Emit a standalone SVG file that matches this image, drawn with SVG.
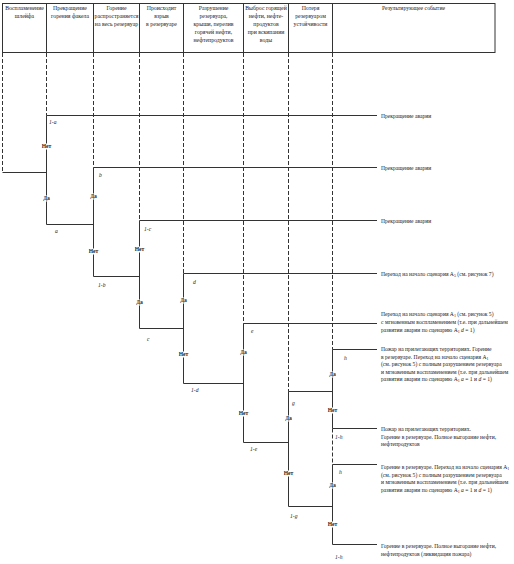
<svg xmlns="http://www.w3.org/2000/svg" width="514" height="564" viewBox="0 0 514 564">
<style>
.bg{fill:#fff}
.hdr{fill:none;stroke:#333;stroke-width:1}
.div{stroke:#333;stroke-width:1}
.dash{stroke:#333;stroke-width:1;stroke-dasharray:4,2;fill:none}
.ln{stroke:#333;stroke-width:1;fill:none}
.ht{font-family:"Liberation Serif","Times New Roman",serif;font-size:5.8px;fill:#222;text-anchor:middle}
.rt{font-family:"Liberation Serif","Times New Roman",serif;font-size:5.6px;fill:#222}
.yn{font-family:"Liberation Serif","Times New Roman",serif;font-size:5.6px;font-weight:bold;fill:#222;text-anchor:middle}
.gap{fill:#fff}
.pl{font-family:"Liberation Serif","Times New Roman",serif;font-size:5.6px;font-style:italic;fill:#222}
.sub{font-size:4px}
</style>
<defs>
  <rect id="gapN" class="gap" x="-5.5" y="-4.5" width="11" height="6"/>
  <rect id="gapD" class="gap" x="-4" y="-4.5" width="8" height="6"/>
</defs>
<rect class="bg" x="0" y="0" width="514" height="564"/>

<g id="header">
  <rect class="hdr" x="2.5" y="3.5" width="492.5" height="49"/>
  <line class="div" x1="46.5" y1="3.5" x2="46.5" y2="52.5"/>
  <line class="div" x1="93.5" y1="3.5" x2="93.5" y2="52.5"/>
  <line class="div" x1="139.5" y1="3.5" x2="139.5" y2="52.5"/>
  <line class="div" x1="183.5" y1="3.5" x2="183.5" y2="52.5"/>
  <line class="div" x1="243.5" y1="3.5" x2="243.5" y2="52.5"/>
  <line class="div" x1="288.5" y1="3.5" x2="288.5" y2="52.5"/>
  <line class="div" x1="332.5" y1="3.5" x2="332.5" y2="52.5"/>
  <text class="ht" x="24.5" y="9.5">Воспламенение<tspan x="24.5" dy="8.2">шлейфа</tspan></text>
  <text class="ht" x="70" y="9.5">Прекращение<tspan x="70" dy="8.2">горения факела</tspan></text>
  <text class="ht" x="116.5" y="9.5">Горение<tspan x="116.5" dy="8.2">распространяется</tspan><tspan x="116.5" dy="8.2">на весь резервуар</tspan></text>
  <text class="ht" x="161.5" y="9.5">Происходит<tspan x="161.5" dy="8.2">взрыв</tspan><tspan x="161.5" dy="8.2">в резервуаре</tspan></text>
  <text class="ht" x="213.5" y="9.5">Разрушение<tspan x="213.5" dy="8.2">резервуара,</tspan><tspan x="213.5" dy="8.2">крыши, перелив</tspan><tspan x="213.5" dy="8.2">горячей нефти,</tspan><tspan x="213.5" dy="8.2">нефтепродуктов</tspan></text>
  <text class="ht" x="266" y="9.5">Выброс горящей<tspan x="266" dy="8.2">нефти, нефте-</tspan><tspan x="266" dy="8.2">продуктов</tspan><tspan x="266" dy="8.2">при вскипании</tspan><tspan x="266" dy="8.2">воды</tspan></text>
  <text class="ht" x="310.5" y="9.5">Потеря<tspan x="310.5" dy="8.2">резервуаром</tspan><tspan x="310.5" dy="8.2">устойчивости</tspan></text>
  <text class="ht" x="413.5" y="10">Результирующее событие</text>
</g>

<g id="guides">
  <line class="dash" x1="2.5" y1="53" x2="2.5" y2="172.5"/>
  <line class="dash" x1="46.5" y1="53" x2="46.5" y2="115.5"/>
  <line class="dash" x1="93.5" y1="53" x2="93.5" y2="167.5"/>
  <line class="dash" x1="139.5" y1="53" x2="139.5" y2="220.5"/>
  <line class="dash" x1="183.5" y1="53" x2="183.5" y2="273.5"/>
  <line class="dash" x1="243.5" y1="53" x2="243.5" y2="323.5"/>
  <line class="dash" x1="288.5" y1="53" x2="288.5" y2="391.5"/>
  <line class="dash" x1="332.5" y1="53" x2="332.5" y2="349.5"/>
  <line class="dash" x1="332.5" y1="428.5" x2="332.5" y2="464.5"/>
</g>

<g id="connectors">
  <line class="ln" x1="2.5" y1="172.5" x2="46.5" y2="172.5"/>
  <line class="ln" x1="46.5" y1="224.5" x2="93.5" y2="224.5"/>
  <line class="ln" x1="93.5" y1="276.5" x2="139.5" y2="276.5"/>
  <line class="ln" x1="139.5" y1="328.5" x2="183.5" y2="328.5"/>
  <line class="ln" x1="183.5" y1="383.5" x2="243.5" y2="383.5"/>
  <line class="ln" x1="243.5" y1="442.5" x2="288.5" y2="442.5"/>
  <line class="ln" x1="288.5" y1="391.5" x2="332.5" y2="391.5"/>
  <line class="ln" x1="288.5" y1="506.5" x2="332.5" y2="506.5"/>
  <line class="ln" x1="46.5" y1="115.5" x2="377" y2="115.5"/>
  <line class="ln" x1="93.5" y1="167.5" x2="377" y2="167.5"/>
  <line class="ln" x1="139.5" y1="220.5" x2="377" y2="220.5"/>
  <line class="ln" x1="183.5" y1="273.5" x2="377" y2="273.5"/>
  <line class="ln" x1="243.5" y1="323.5" x2="377" y2="323.5"/>
  <line class="ln" x1="332.5" y1="349.5" x2="377" y2="349.5"/>
  <line class="ln" x1="332.5" y1="428.5" x2="377" y2="428.5"/>
  <line class="ln" x1="332.5" y1="464.5" x2="377" y2="464.5"/>
  <line class="ln" x1="332.5" y1="544.5" x2="377" y2="544.5"/>
  <text class="pl" x="49" y="124">1-a</text>
  <text class="pl" x="55" y="233">a</text>
  <text class="pl" x="99" y="177">b</text>
  <text class="pl" x="98" y="287">1-b</text>
  <text class="pl" x="144" y="231">1-c</text>
  <text class="pl" x="147" y="341">c</text>
  <text class="pl" x="193" y="284">d</text>
  <text class="pl" x="191" y="392">1-d</text>
  <text class="pl" x="251" y="333">e</text>
  <text class="pl" x="250" y="451">1-e</text>
  <text class="pl" x="292" y="405">g</text>
  <text class="pl" x="290" y="518">1-g</text>
  <text class="pl" x="344" y="360">h</text>
  <text class="pl" x="335" y="439">1-h</text>
  <text class="pl" x="339" y="474">h</text>
  <text class="pl" x="335" y="559">1-h</text>
</g>

<g id="node-a">
  <line class="ln" x1="46.5" y1="115.5" x2="46.5" y2="224.5"/>
  <use href="#gapN" x="46.5" y="148"/><text class="yn" x="46.5" y="148">Нет</text>
  <use href="#gapD" x="46.5" y="200"/><text class="yn" x="46.5" y="200">Да</text>
</g>
<g id="node-b">
  <line class="ln" x1="93.5" y1="167.5" x2="93.5" y2="276.5"/>
  <use href="#gapD" x="93.5" y="198"/><text class="yn" x="93.5" y="198">Да</text>
  <use href="#gapN" x="93.5" y="253"/><text class="yn" x="93.5" y="253">Нет</text>
</g>
<g id="node-c">
  <line class="ln" x1="139.5" y1="220.5" x2="139.5" y2="328.5"/>
  <use href="#gapN" x="139.5" y="251"/><text class="yn" x="139.5" y="251">Нет</text>
  <use href="#gapD" x="139.5" y="304"/><text class="yn" x="139.5" y="304">Да</text>
</g>
<g id="node-d">
  <line class="ln" x1="183.5" y1="273.5" x2="183.5" y2="383.5"/>
  <use href="#gapD" x="183.5" y="302"/><text class="yn" x="183.5" y="302">Да</text>
  <use href="#gapN" x="183.5" y="356"/><text class="yn" x="183.5" y="356">Нет</text>
</g>
<g id="node-e">
  <line class="ln" x1="243.5" y1="323.5" x2="243.5" y2="442.5"/>
  <use href="#gapD" x="243.5" y="354"/><text class="yn" x="243.5" y="354">Да</text>
  <use href="#gapN" x="243.5" y="415"/><text class="yn" x="243.5" y="415">Нет</text>
</g>
<g id="node-g">
  <line class="ln" x1="288.5" y1="391.5" x2="288.5" y2="506.5"/>
  <use href="#gapD" x="288.5" y="420"/><text class="yn" x="288.5" y="420">Да</text>
  <use href="#gapN" x="288.5" y="475"/><text class="yn" x="288.5" y="475">Нет</text>
</g>
<g id="node-h1">
  <line class="ln" x1="332.5" y1="349.5" x2="332.5" y2="428.5"/>
  <use href="#gapD" x="332.5" y="376"/><text class="yn" x="332.5" y="376">Да</text>
  <use href="#gapN" x="332.5" y="412"/><text class="yn" x="332.5" y="412">Нет</text>
</g>
<g id="node-h2">
  <line class="ln" x1="332.5" y1="464.5" x2="332.5" y2="544.5"/>
  <use href="#gapD" x="332.5" y="487"/><text class="yn" x="332.5" y="487">Да</text>
  <use href="#gapN" x="332.5" y="526"/><text class="yn" x="332.5" y="526">Нет</text>
</g>

<g id="result-1"><text class="rt" x="381" y="118">Прекращение аварии</text></g>
<g id="result-2"><text class="rt" x="381" y="170">Прекращение аварии</text></g>
<g id="result-3"><text class="rt" x="381" y="223">Прекращение аварии</text></g>
<g id="result-4"><text class="rt" x="381" y="276">Переход на начало сценария А<tspan class="sub" dy="1">5</tspan><tspan dy="-1"> (см. рисунок 7)</tspan></text></g>
<g id="result-5">
  <text class="rt" x="381" y="316">Переход на начало сценария А<tspan class="sub" dy="1">1</tspan><tspan dy="-1"> (см. рисунок 5)</tspan></text>
  <text class="rt" x="381" y="324">с мгновенным воспламенением (т.е. при дальнейшем</text>
  <text class="rt" x="381" y="332">развитии аварии по сценарию А<tspan class="sub" dy="1">1</tspan><tspan dy="-1"> </tspan><tspan font-style="italic">d</tspan> = 1)</text>
</g>
<g id="result-6">
  <text class="rt" x="381" y="351">Пожар на прилегающих территориях. Горение</text>
  <text class="rt" x="381" y="358.5">в резервуаре. Переход на начало сценария А<tspan class="sub" dy="1">1</tspan></text>
  <text class="rt" x="381" y="366">(см. рисунок 5) с полным разрушением резервуара</text>
  <text class="rt" x="381" y="373.5">и мгновенным воспламенением (т.е. при дальнейшем</text>
  <text class="rt" x="381" y="381">развитии аварии по сценарию А<tspan class="sub" dy="1">1</tspan><tspan dy="-1"> </tspan><tspan font-style="italic">a</tspan> = 1 и <tspan font-style="italic">d</tspan> = 1)</text>
</g>
<g id="result-7">
  <text class="rt" x="381" y="431">Пожар на прилегающих территориях.</text>
  <text class="rt" x="381" y="438.5">Горение в резервуаре. Полное выгорание нефти,</text>
  <text class="rt" x="381" y="446">нефтепродуктов</text>
</g>
<g id="result-8">
  <text class="rt" x="381" y="469">Горение в резервуаре. Переход на начало сценария А<tspan class="sub" dy="1">1</tspan></text>
  <text class="rt" x="381" y="476.5">(см. рисунок 5) с полным разрушением резервуара</text>
  <text class="rt" x="381" y="484">и мгновенным воспламенением (т.е. при дальнейшем</text>
  <text class="rt" x="381" y="491.5">развитии аварии по сценарию А<tspan class="sub" dy="1">1</tspan><tspan dy="-1"> </tspan><tspan font-style="italic">a</tspan> = 1 и <tspan font-style="italic">d</tspan> = 1)</text>
</g>
<g id="result-9">
  <text class="rt" x="381" y="548">Горение в резервуаре. Полное выгорание нефти,</text>
  <text class="rt" x="381" y="555.5">нефтепродуктов (ликвидация пожара)</text>
</g>
</svg>
